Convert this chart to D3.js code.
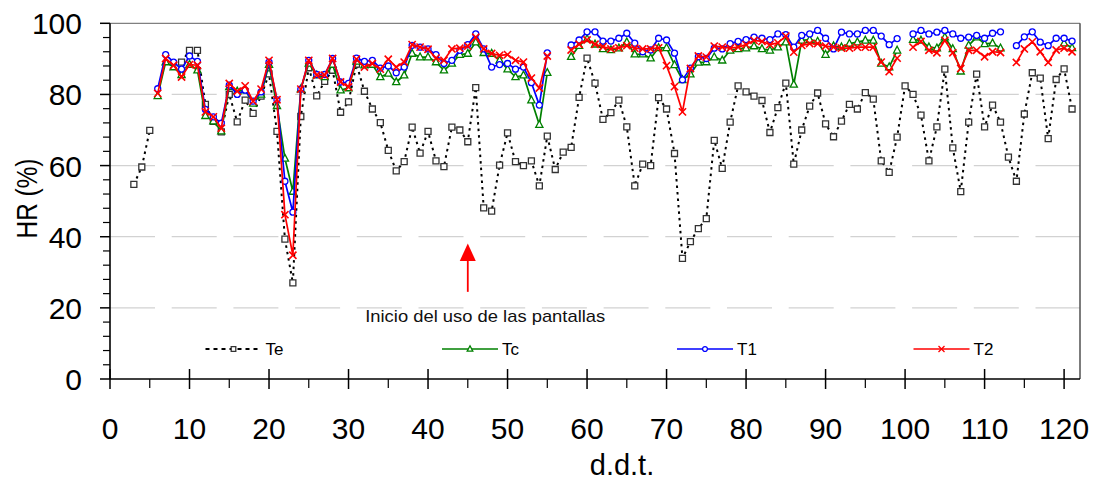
<!DOCTYPE html>
<html>
<head>
<meta charset="utf-8">
<script src="https://cdn.jsdelivr.net/npm/d3@7/dist/d3.min.js"></script>
<style>
  html, body { margin: 0; padding: 0; background: #fff; }
  svg { display: block; font-family: "Liberation Sans", Arial, sans-serif; }
</style>
</head>
<body>
<svg id="chart" width="1098" height="481"></svg>
<script>
// ---------- DATA ----------
const days = [
  1,2,3,4,5,6,7,8,9,10,
  11,12,13,14,15,16,17,18,19,20,
  21,22,23,24,25,26,27,28,29,30,
  31,32,33,34,35,36,37,38,39,40,
  41,42,43,44,45,46,47,48,49,50,
  51,52,53,54,55,56,57,58,59,60,
  61,62,63,64,65,66,67,68,69,70,
  71,72,73,74,75,76,77,78,79,80,
  81,82,83,84,85,86,87,88,89,90,
  91,92,93,94,95,96,97,98,99,100,
  101,102,103,104,105,106,107,108,109,110,
  111,112,113,114,115,116,117,118,119,120,
  121
];

const Te = [
  null,null,54.7,59.6,69.9,null,null,null,89.1,92.4,
  92.4,77.2,72.4,69.5,80.0,72.3,78.4,74.7,79.5,85.8,
  69.6,39.3,27.0,73.8,87.5,79.6,83.7,86.8,75.0,77.9,
  88.5,80.9,75.9,72.1,64.3,58.5,61.1,70.8,63.5,69.6,
  61.3,59.7,70.8,70.0,66.7,81.9,48.1,47.2,60.1,69.2,
  61.1,60.0,61.3,54.3,68.3,58.9,63.8,65.1,79.2,90.2,
  83.2,73.0,74.9,78.4,70.9,54.3,60.4,60.0,79.1,75.9,
  63.4,33.9,38.6,42.3,45.1,67.1,59.2,72.2,82.4,80.7,
  79.5,78.3,69.3,76.3,83.2,60.4,70.0,76.7,80.4,71.7,
  68.1,72.5,77.2,75.9,80.5,78.7,61.3,58.1,68.0,82.4,
  80.0,74.2,61.3,70.9,87.1,65.0,52.7,72.2,85.7,70.9,
  77.0,72.2,62.4,55.6,74.5,86.1,84.6,67.6,84.2,87.2,
  75.9
];

const Tc = [
  null,null,null,null,null,79.6,89.1,87.7,85.5,88.4,
  86.8,74.0,72.5,69.7,82.1,80.9,81.2,77.5,80.0,88.4,
  76.8,62.0,52.7,81.5,88.7,85.4,84.9,88.4,81.2,81.8,
  89.3,88.2,88.4,84.9,85.9,83.5,85.4,91.5,90.5,90.5,
  89.1,86.8,88.7,91.2,91.5,94.7,91.7,91.5,89.6,87.1,
  84.9,85.4,78.4,71.5,86.1,null,null,90.6,93.7,95.6,
  94.1,92.8,92.5,93.0,94.7,91.3,91.3,90.2,93.1,93.1,
  88.3,84.1,85.7,89.0,89.1,90.5,89.6,92.4,92.8,93.0,
  93.6,92.8,92.4,93.3,94.7,82.8,95.2,95.4,94.9,91.2,
  93.6,93.3,94.3,94.7,95.2,95.2,88.7,87.7,92.4,null,
  95.4,95.2,93.3,93.0,96.1,92.8,86.5,93.8,96.1,94.2,
  94.4,93.0,null,null,null,null,null,null,null,94.4,
  93.1
];

const T1 = [
  null,null,null,null,null,81.6,91.2,89.1,87.1,90.8,
  89.3,75.8,73.7,71.9,82.6,80.0,81.2,78.1,80.7,89.1,
  78.5,55.6,46.9,81.5,89.6,85.6,85.6,90.1,83.5,83.1,
  90.2,89.3,89.6,87.4,88.0,86.1,87.7,93.8,93.3,92.8,
  91.2,88.7,89.6,92.4,94.0,97.0,92.8,87.7,88.4,88.7,
  87.1,87.7,83.3,77.0,91.7,null,null,93.9,95.3,97.6,
  97.6,95.0,95.0,95.8,97.2,94.4,92.0,92.5,95.8,95.3,
  91.6,84.1,87.4,90.6,90.1,93.0,92.8,94.3,94.9,95.4,
  96.1,95.8,95.4,97.0,96.8,93.3,96.6,97.0,98.0,95.8,
  92.8,97.5,97.0,97.0,98.0,98.0,96.4,94.0,95.7,null,
  97.0,98.0,97.0,97.5,98.0,97.0,95.8,96.1,96.6,95.8,
  97.2,97.6,null,93.7,96.2,97.6,94.7,93.7,95.8,95.8,
  95.0
];

const T2 = [
  null,null,null,null,null,80.3,90.1,88.2,84.9,88.4,
  88.2,75.1,73.7,70.5,83.1,80.9,82.4,78.1,81.5,89.6,
  78.5,46.2,34.8,81.5,89.6,85.4,85.4,90.1,83.5,82.1,
  89.9,87.7,88.7,87.1,89.9,87.7,89.1,94.0,93.3,92.7,
  90.2,89.6,92.8,93.0,93.6,96.1,92.8,91.5,91.0,91.2,
  89.6,89.1,84.6,81.8,90.8,null,null,92.5,94.1,95.3,
  94.1,93.4,92.8,93.1,93.7,93.0,92.8,92.8,93.1,88.1,
  82.2,75.1,87.3,90.8,90.5,93.6,93.3,93.0,93.3,94.0,
  95.2,94.9,94.0,94.5,96.4,91.9,93.8,94.3,94.3,93.6,
  93.3,93.0,93.0,93.3,93.3,93.3,89.1,86.4,90.2,null,
  93.3,94.9,92.4,91.7,95.2,91.7,87.3,92.4,92.4,90.6,
  92.0,91.8,null,89.0,92.8,94.8,92.0,89.0,92.5,93.0,
  92.0
];

const seriesNames = ["Te", "Tc", "T1", "T2"];
const xMajorTicks = [0,10,20,30,40,50,60,70,80,90,100,110,120];
const xMinorTicks = [5,15,25,35,45,55,65,75,85,95,105,115];
const yMajorTicks = [0,20,40,60,80,100];
const yMinorTicks = [4,8,12,16,24,28,32,36,44,48,52,56,64,68,72,76,84,88,92,96];
const gridValues = [20,40,60,80];
const xTitle = "d.d.t.";
const yTitle = "HR (%)";
const noteText = "Inicio del uso de las pantallas";
const noteArrow = { day: 45, from: 24.5, to: 38.1 };
const noteTextPos = { day: 32.1, hr: 16.1 };

// ---------- CHART ----------
const svg = d3.select("#chart");
svg.append("rect").attr("width", 1098).attr("height", 481).attr("fill", "#fff");

const x = d3.scaleLinear().domain([0, 122]).range([110, 1080]);
const y = d3.scaleLinear().domain([0, 100]).range([379, 23.3]);

// gridlines
svg.append("g").selectAll("line").data(gridValues).join("line")
  .attr("x1", x(0)).attr("x2", x(122))
  .attr("y1", d => y(d)).attr("y2", d => y(d))
  .attr("stroke", "#d2d2d2").attr("stroke-width", 1.3)
  .attr("stroke-dasharray", "45,16.7");

// frame top / right
svg.append("line").attr("x1", x(0)).attr("x2", x(122)).attr("y1", y(100)).attr("y2", y(100))
  .attr("stroke", "#808080").attr("stroke-width", 1.3);
svg.append("line").attr("x1", x(122)).attr("x2", x(122)).attr("y1", y(100)).attr("y2", y(0))
  .attr("stroke", "#505050").attr("stroke-width", 1.5);

// y axis
const yAxisG = svg.append("g");
yAxisG.append("line").attr("x1", x(0)).attr("x2", x(0)).attr("y1", y(0)).attr("y2", y(100))
  .attr("stroke", "#000").attr("stroke-width", 1.6);
yAxisG.selectAll("line.maj").data(yMajorTicks).join("line").attr("class", "maj")
  .attr("x1", x(0) - 10).attr("x2", x(0)).attr("y1", d => y(d)).attr("y2", d => y(d))
  .attr("stroke", "#000").attr("stroke-width", 1.5);
yAxisG.selectAll("line.min").data(yMinorTicks).join("line").attr("class", "min")
  .attr("x1", x(0) - 7).attr("x2", x(0)).attr("y1", d => y(d)).attr("y2", d => y(d))
  .attr("stroke", "#000").attr("stroke-width", 1.2);
yAxisG.selectAll("text").data(yMajorTicks).join("text")
  .attr("x", 82).attr("y", d => y(d) + 11)
  .attr("text-anchor", "end").attr("font-size", 30).attr("fill", "#000")
  .text(d => d);

// x axis
const xAxisG = svg.append("g");
xAxisG.append("line").attr("x1", x(0)).attr("x2", x(122)).attr("y1", y(0)).attr("y2", y(0))
  .attr("stroke", "#000").attr("stroke-width", 1.6);
xAxisG.selectAll("line.maj").data(xMajorTicks).join("line").attr("class", "maj")
  .attr("x1", d => x(d)).attr("x2", d => x(d)).attr("y1", y(0) - 10).attr("y2", y(0) + 10)
  .attr("stroke", "#000").attr("stroke-width", 1.5);
xAxisG.selectAll("line.min").data(xMinorTicks).join("line").attr("class", "min")
  .attr("x1", d => x(d)).attr("x2", d => x(d)).attr("y1", y(0)).attr("y2", y(0) + 9)
  .attr("stroke", "#000").attr("stroke-width", 1.2);
xAxisG.selectAll("text").data(xMajorTicks).join("text")
  .attr("x", d => x(d)).attr("y", 438.5)
  .attr("text-anchor", "middle").attr("font-size", 30).attr("fill", "#000")
  .text(d => d);

// axis titles
svg.append("text").attr("x", 622).attr("y", 475).attr("text-anchor", "middle")
  .attr("font-size", 29).attr("fill", "#000").text(xTitle);
svg.append("text").attr("transform", "translate(37,198.5) rotate(-90)")
  .attr("text-anchor", "middle").attr("font-size", 30).attr("fill", "#000")
  .attr("textLength", 80).attr("lengthAdjust", "spacingAndGlyphs")
  .text(yTitle);

// annotation
const ax = x(noteArrow.day);
svg.append("line").attr("x1", ax).attr("x2", ax)
  .attr("y1", y(noteArrow.from)).attr("y2", y(noteArrow.to) + 15)
  .attr("stroke", "#ff0000").attr("stroke-width", 1.8);
svg.append("path")
  .attr("d", `M${ax},${y(noteArrow.to)} L${ax + 8},${y(noteArrow.to) + 17.5} L${ax - 8},${y(noteArrow.to) + 17.5} Z`)
  .attr("fill", "#ff0000");
svg.append("text").attr("x", x(noteTextPos.day)).attr("y", y(noteTextPos.hr))
  .attr("font-size", 17).attr("fill", "#111")
  .attr("textLength", 240).attr("lengthAdjust", "spacingAndGlyphs")
  .text(noteText);

// series
const styles = {
  Te: { data: Te, color: "#000", width: 2, dash: "2.5,4", marker: "square", mcolor: "#333" },
  Tc: { data: Tc, color: "#008000", width: 1.7, dash: null, marker: "triangle", mcolor: "#008000" },
  T1: { data: T1, color: "#0000ff", width: 1.7, dash: null, marker: "circle", mcolor: "#0000ff" },
  T2: { data: T2, color: "#ff0000", width: 1.7, dash: null, marker: "x", mcolor: "#ff0000" }
};

function markerPath(type, s) {
  if (type === "square") return `M${-s},${-s}H${s}V${s}H${-s}Z`;
  if (type === "triangle") return `M0,${-s * 1.15}L${s},${s * 0.75}L${-s},${s * 0.75}Z`;
  if (type === "circle") return `M${s},0A${s},${s} 0 1,1 ${-s},0A${s},${s} 0 1,1 ${s},0Z`;
  return `M${-s},${-s}L${s},${s}M${-s},${s}L${s},${-s}`;
}
const markerSize = { square: 3, triangle: 3.6, circle: 3, x: 3.6 };
const legendSize = { square: 2.3, triangle: 2.8, circle: 2.4, x: 3 };

const line = d3.line()
  .defined(d => d.v !== null)
  .x(d => x(d.day)).y(d => y(d.v));

seriesNames.forEach(name => {
  const st = styles[name];
  const pts = days.map((d, i) => ({ day: d, v: st.data[i] }));
  const g = svg.append("g");
  const p = g.append("path").datum(pts).attr("d", line)
    .attr("fill", "none").attr("stroke", st.color).attr("stroke-width", st.width)
    .attr("stroke-linejoin", "round");
  if (st.dash) p.attr("stroke-dasharray", st.dash);
  g.selectAll("path.m").data(pts.filter(d => d.v !== null)).join("path").attr("class", "m")
    .attr("transform", d => `translate(${x(d.day)},${y(d.v)})`)
    .attr("d", markerPath(st.marker, markerSize[st.marker]))
    .attr("fill", st.marker === "x" ? "none" : "#fff")
    .attr("stroke", st.mcolor).attr("stroke-width", st.marker === "x" ? 1.6 : 1.3);
});

// legend
const legendX = [233.5, 470, 705, 941.5];
const legY = 349;
seriesNames.forEach((name, i) => {
  const st = styles[name];
  const cx = legendX[i];
  const g = svg.append("g");
  const l = g.append("line").attr("x1", cx - 28).attr("x2", cx + 28)
    .attr("y1", legY).attr("y2", legY)
    .attr("stroke", st.color).attr("stroke-width", name === "Te" ? 2 : 1.6);
  if (st.dash) l.attr("stroke-dasharray", "4,4");
  g.append("path").attr("transform", `translate(${cx},${legY})`)
    .attr("d", markerPath(st.marker, legendSize[st.marker]))
    .attr("fill", st.marker === "x" ? "none" : "#fff")
    .attr("stroke", st.mcolor).attr("stroke-width", 1.3);
  g.append("text").attr("x", cx + 32).attr("y", legY + 4.5 + 1)
    .attr("font-size", 17).attr("fill", "#000").text(name);
});
</script>
</body>
</html>
